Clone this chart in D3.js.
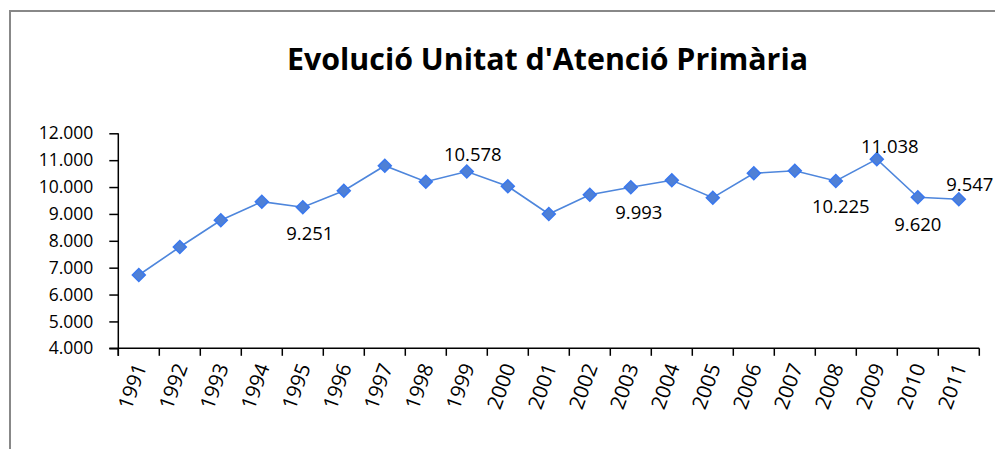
<!DOCTYPE html>
<html>
<head>
<meta charset="utf-8">
<script src="https://cdn.jsdelivr.net/npm/d3@7"></script>
<style>
  html, body { margin: 0; padding: 0; background: #fff; }
  svg { display: block; }
  text { font-family: "Open Sans", "Noto Sans", sans-serif; fill: #000; }
</style>
</head>
<body>
<svg id="chart" width="995" height="449"></svg>
<script>
// ---- data ----
const years = ["1991","1992","1993","1994","1995","1996","1997","1998","1999","2000",
               "2001","2002","2003","2004","2005","2006","2007","2008","2009","2010","2011"];
const values = [6727, 7769, 8763, 9455, 9251, 9864, 10794, 10199, 10578, 10028,
                8997, 9715, 9993, 10251, 9604, 10512, 10608, 10225, 11038, 9620, 9547];
const yTicks = [4000, 5000, 6000, 7000, 8000, 9000, 10000, 11000, 12000];
const labelledYears = ["1995","1999","2003","2008","2009","2010","2011"];
const title = "Evolució Unitat d'Atenció Primària";

// ---- label placement (layout, px offsets from the point) ----
const labelOffsets = {
  "1995": [7, 26], "1999": [6, -16.5], "2003": [8, 25.5], "2008": [5, 25.7],
  "2009": [13, -13], "2010": [0, 27], "2011": [11, -15]
};

const fmt = d3.formatLocale({decimal: ",", thousands: ".", grouping: [3], currency: ["", "€"]}).format(",d");

const svg = d3.select("#chart");
const plotL = 118.3, plotR = 979.3, plotT = 133.3, plotB = 348.3;

// outer border (partial frame as in reference)
svg.append("path")
  .attr("d", "M10,449 V11 H995")
  .attr("fill", "none").attr("stroke", "#888").attr("stroke-width", 2);

// title
svg.append("text")
  .attr("x", 547.5).attr("y", 70)
  .attr("text-anchor", "middle")
  .attr("font-size", 30).attr("font-weight", 700)
  .attr("textLength", 521).attr("lengthAdjust", "spacingAndGlyphs")
  .text(title);

const x = d3.scaleBand().domain(years).range([plotL, plotR]).padding(0);
const y = d3.scaleLinear().domain([4000, 12000]).range([plotB, plotT]);
const cx = d => x(d) + x.bandwidth() / 2;

// y axis
const yAxis = svg.append("g")
  .attr("transform", `translate(${plotL},0)`)
  .call(d3.axisLeft(y).tickValues(yTicks).tickSize(9).tickPadding(16).tickFormat(fmt));
yAxis.selectAll("text").attr("font-size", 17.5).attr("font-family", "'Open Sans', sans-serif").attr("fill", "#000");
yAxis.select(".domain").attr("d", `M0,${plotB + 7.5}V${plotT}`).attr("stroke", "#000").attr("stroke-width", 1.5);
yAxis.selectAll(".tick line").attr("stroke", "#000").attr("stroke-width", 1.5);

// x axis (ticks between categories)
const xg = svg.append("g");
xg.append("line")
  .attr("x1", plotL - 9).attr("x2", plotR)
  .attr("y1", plotB).attr("y2", plotB)
  .attr("stroke", "#000").attr("stroke-width", 1.5);
const boundaries = years.map(d => x(d)).concat([x(years[years.length - 1]) + x.bandwidth()]);
xg.selectAll("line.tk").data(boundaries).join("line")
  .attr("class", "tk")
  .attr("x1", d => d).attr("x2", d => d)
  .attr("y1", plotB).attr("y2", plotB + 7.5)
  .attr("stroke", "#000").attr("stroke-width", 1.5);
xg.selectAll("text").data(years).join("text")
  .attr("transform", d => `translate(${cx(d) + 1.5},${plotB + 16}) rotate(-70)`)
  .attr("text-anchor", "end")
  .attr("dy", "0.35em")
  .attr("font-size", 20.5)
  .text(d => d);

// line
const pts = years.map((d, i) => ({year: d, v: values[i]}));
svg.append("path")
  .datum(pts)
  .attr("fill", "none")
  .attr("stroke", "#4e86dc")
  .attr("stroke-width", 1.6)
  .attr("d", d3.line().x(d => cx(d.year)).y(d => y(d.v)));

// markers (diamonds)
svg.selectAll("path.mk").data(pts).join("path")
  .attr("class", "mk")
  .attr("d", d3.symbol(d3.symbolSquare, 84))
  .attr("transform", d => `translate(${cx(d.year)},${y(d.v)}) rotate(45)`)
  .attr("fill", "#4f80d6")
  .attr("stroke", "#3a78ee")
  .attr("stroke-width", 1.5);

// data labels
svg.selectAll("text.lbl").data(pts.filter(d => labelledYears.includes(d.year))).join("text")
  .attr("class", "lbl")
  .attr("x", d => cx(d.year) + labelOffsets[d.year][0])
  .attr("y", d => y(d.v) + labelOffsets[d.year][1])
  .attr("dy", "0.35em")
  .attr("text-anchor", "middle")
  .attr("font-size", 18.5)
  .text(d => fmt(d.v));
</script>
</body>
</html>
